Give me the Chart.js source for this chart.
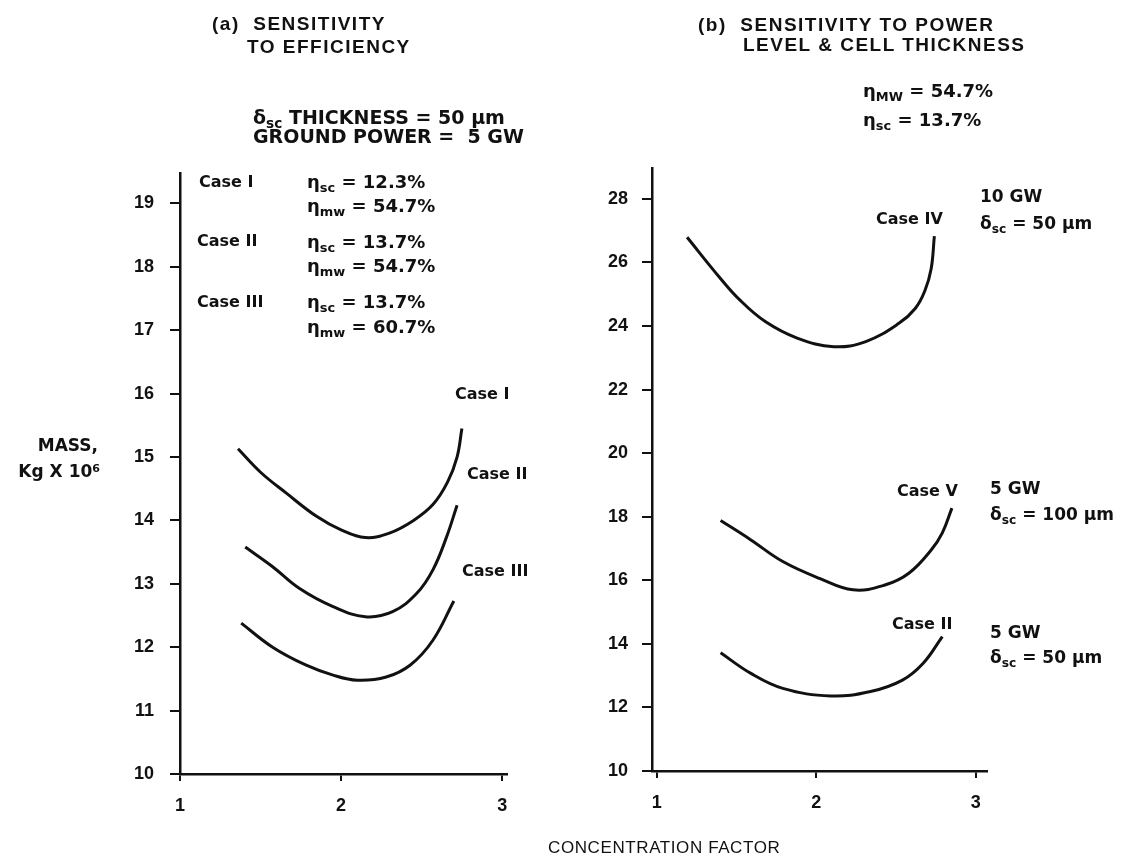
<!DOCTYPE html>
<html>
<head>
<meta charset="utf-8">
<script src="https://cdn.jsdelivr.net/npm/chart.js@4.4.1/dist/chart.umd.min.js"></script>
<style>
  html, body { margin: 0; padding: 0; background: #fff; }
  #page { position: relative; width: 1125px; height: 865px; overflow: hidden; font-family: "Liberation Sans", Arial, sans-serif; color: #111; }
  .box { position: absolute; }
  .t { position: absolute; white-space: nowrap; font-weight: bold; line-height: 1; }
  .title { font-size: 19px; letter-spacing: 1.5px; }
  .par { font-family: "DejaVu Sans", sans-serif; font-size: 18px; }
  .big { font-size: 19px; }
  .sm { font-size: 17px; }
  .cs { font-family: "DejaVu Sans", sans-serif; font-size: 16px; }
  .t sub { font-size: 0.72em; vertical-align: -0.3em; line-height: 0; }
  .t sup { font-size: 0.65em; vertical-align: 0.45em; line-height: 0; }
</style>
</head>
<body>
<div id="page">
  <div class="box" style="left:0;top:0;width:560px;height:865px"><canvas id="chartA" width="560" height="865"></canvas></div>
  <div class="box" style="left:560px;top:0;width:565px;height:865px"><canvas id="chartB" width="565" height="865"></canvas></div>

  <!-- panel (a) text -->
  <div class="t title" style="left:212px;top:14px">(a)&nbsp; SENSITIVITY</div>
  <div class="t title" style="left:247px;top:37px">TO EFFICIENCY</div>
  <div class="t par big" style="left:253px;top:108px">δ<sub>sc</sub> THICKNESS = 50 μm</div>
  <div class="t par big" style="left:253px;top:127px">GROUND POWER = &nbsp;5 GW</div>

  <div class="t cs" style="left:199px;top:174px">Case I</div>
  <div class="t cs" style="left:197px;top:233px">Case II</div>
  <div class="t cs" style="left:197px;top:294px">Case III</div>
  <div class="t par" style="left:307px;top:173px">η<sub>sc</sub> = 12.3%</div>
  <div class="t par" style="left:307px;top:197px">η<sub>mw</sub> = 54.7%</div>
  <div class="t par" style="left:307px;top:233px">η<sub>sc</sub> = 13.7%</div>
  <div class="t par" style="left:307px;top:257px">η<sub>mw</sub> = 54.7%</div>
  <div class="t par" style="left:307px;top:293px">η<sub>sc</sub> = 13.7%</div>
  <div class="t par" style="left:307px;top:318px">η<sub>mw</sub> = 60.7%</div>

  <div class="t cs" style="left:455px;top:386px">Case I</div>
  <div class="t cs" style="left:467px;top:466px">Case II</div>
  <div class="t cs" style="left:462px;top:563px">Case III</div>

  <div class="t par sm" style="right:1027px;top:437px">MASS,</div>
  <div class="t par sm" style="right:1025px;top:463px">Kg X 10<sup>6</sup></div>

  <div class="t" style="left:548px;top:839px;font-size:17px;font-weight:normal;letter-spacing:0.6px">CONCENTRATION FACTOR</div>

  <!-- panel (b) text -->
  <div class="t title" style="left:698px;top:15px">(b)&nbsp; SENSITIVITY TO POWER</div>
  <div class="t title" style="left:743px;top:35px">LEVEL &amp; CELL THICKNESS</div>
  <div class="t par" style="left:863px;top:82px">η<sub>MW</sub> = 54.7%</div>
  <div class="t par" style="left:863px;top:111px">η<sub>sc</sub> = 13.7%</div>

  <div class="t cs" style="left:876px;top:211px">Case IV</div>
  <div class="t par sm" style="left:980px;top:188px">10 GW</div>
  <div class="t par sm" style="left:980px;top:215px">δ<sub>sc</sub> = 50 μm</div>

  <div class="t cs" style="left:897px;top:483px">Case V</div>
  <div class="t par sm" style="left:990px;top:480px">5 GW</div>
  <div class="t par sm" style="left:990px;top:506px">δ<sub>sc</sub> = 100 μm</div>

  <div class="t cs" style="left:892px;top:616px">Case II</div>
  <div class="t par sm" style="left:990px;top:624px">5 GW</div>
  <div class="t par sm" style="left:990px;top:649px">δ<sub>sc</sub> = 50 μm</div>
</div>

<script>
// tick labels
const xTicks = [1, 2, 3];
const yTicksA = [10, 11, 12, 13, 14, 15, 16, 17, 18, 19];
const yTicksB = [10, 12, 14, 16, 18, 20, 22, 24, 26, 28];

// (a) sensitivity to efficiency
const caseIx   = [1.36, 1.5, 1.66, 1.85, 2.0, 2.15, 2.3, 2.45, 2.57, 2.66, 2.72, 2.75];
const caseIy   = [15.13, 14.76, 14.43, 14.06, 13.85, 13.73, 13.8, 14.0, 14.25, 14.6, 15.0, 15.45];
const caseIIx  = [1.405, 1.575, 1.74, 1.95, 2.15, 2.32, 2.47, 2.57, 2.655, 2.72];
const caseIIy  = [13.58, 13.27, 12.93, 12.64, 12.48, 12.56, 12.85, 13.22, 13.74, 14.24];
const caseIIIx = [1.38, 1.575, 1.78, 1.95, 2.1, 2.28, 2.43, 2.57, 2.7];
const caseIIIy = [12.38, 12.0, 11.72, 11.56, 11.48, 11.53, 11.72, 12.11, 12.73];

// (b) sensitivity to power level & cell thickness
const caseIVx  = [1.19, 1.39, 1.52, 1.68, 1.88, 2.11, 2.31, 2.52, 2.62, 2.68, 2.72, 2.74];
const caseIVy  = [26.79, 25.55, 24.82, 24.14, 23.62, 23.35, 23.51, 24.09, 24.55, 25.1, 25.8, 26.83];
const caseVx   = [1.4, 1.59, 1.79, 2.02, 2.23, 2.43, 2.58, 2.72, 2.79, 2.85];
const caseVy   = [17.88, 17.27, 16.59, 16.06, 15.7, 15.85, 16.22, 16.95, 17.49, 18.27];
const caseIIbx = [1.4, 1.59, 1.79, 2.09, 2.34, 2.54, 2.67, 2.79];
const caseIIby = [13.72, 13.07, 12.6, 12.36, 12.5, 12.86, 13.39, 14.23];

const pts = (xs, ys) => xs.map((x, i) => ({ x: x, y: ys[i] }));

const curve = (xs, ys) => ({
  data: pts(xs, ys),
  showLine: true,
  borderColor: '#111',
  borderWidth: 3,
  pointRadius: 0,
  fill: false,
  tension: 0.4
});

const tickFont = { family: '"Liberation Sans", Arial, sans-serif', size: 18, weight: 'bold' };

const makeOptions = (xMin, xMax, yMax, yTicks, pad, yPad) => ({
  responsive: false,
  animation: false,
  devicePixelRatio: 1,
  layout: { padding: pad },
  plugins: { legend: { display: false }, tooltip: { enabled: false } },
  scales: {
    x: {
      type: 'linear', min: xMin, max: xMax,
      afterBuildTicks: s => { s.ticks = xTicks.map(v => ({ value: v })); },
      afterFit: s => { s.height = 50; },
      border: { display: true, color: '#111', width: 2.5 },
      grid: { display: true, drawOnChartArea: false, drawTicks: true, tickLength: 7, color: '#111', lineWidth: 2 },
      ticks: { color: '#111', font: tickFont, padding: 14, maxRotation: 0 }
    },
    y: {
      type: 'linear', min: 10, max: yMax,
      afterBuildTicks: s => { s.ticks = yTicks.map(v => ({ value: v })); },
      afterFit: s => { s.width = 70; },
      border: { display: true, color: '#111', width: 2.5 },
      grid: { display: true, drawOnChartArea: false, drawTicks: true, tickLength: 10, color: '#111', lineWidth: 2 },
      ticks: { color: '#111', font: tickFont, padding: yPad }
    }
  }
});

new Chart(document.getElementById('chartA').getContext('2d'), {
  type: 'scatter',
  data: { datasets: [curve(caseIx, caseIy), curve(caseIIx, caseIIy), curve(caseIIIx, caseIIIy)] },
  options: makeOptions(1, 3.03, 19.48, yTicksA, { left: 110, right: 53, top: 173, bottom: 41 }, 16)
});

new Chart(document.getElementById('chartB').getContext('2d'), {
  type: 'scatter',
  data: { datasets: [curve(caseIVx, caseIVy), curve(caseVx, caseVy), curve(caseIIbx, caseIIby)] },
  options: makeOptions(0.97, 3.07, 28.97, yTicksB, { left: 22, right: 138, top: 168, bottom: 44 }, 14)
});
</script>
</body>
</html>
